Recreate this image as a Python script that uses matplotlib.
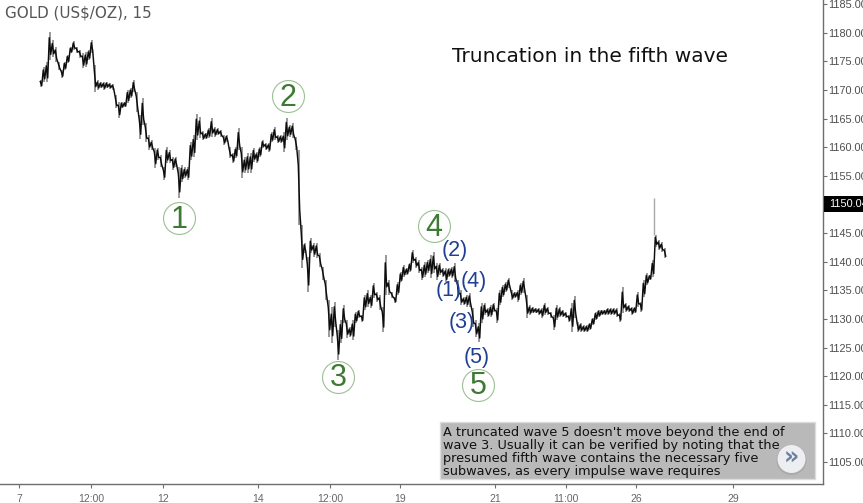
import matplotlib
matplotlib.use("Agg")
import matplotlib.pyplot as plt
import numpy as np
from matplotlib.patches import Rectangle, Ellipse

# prices, one sample every 2.5 trading hours
high_prices = [
    1171.7, 1174.0, 1174.9, 1180.1, 1178.7, 1177.5, 1174.9, 1173.5, 1174.9, 1176.1,
    1177.5, 1178.5, 1177.5, 1177.0, 1176.4, 1176.6, 1177.0, 1178.7, 1174.4, 1171.7,
    1171.4, 1171.4, 1171.4, 1171.2, 1171.0, 1169.1, 1167.9, 1167.9, 1167.9, 1170.0,
    1170.3, 1171.7, 1169.6, 1165.6, 1168.6, 1164.2, 1162.1, 1161.2, 1159.9, 1159.9,
    1158.6, 1156.5, 1160.0, 1159.5, 1158.3, 1158.3, 1156.5, 1156.9, 1156.5, 1156.5,
    1160.9, 1162.1, 1165.8, 1165.3, 1162.8, 1162.5, 1163.3, 1165.1, 1163.5, 1163.3,
    1163.0, 1162.1, 1162.1, 1160.0, 1159.0, 1160.0, 1163.3, 1160.0, 1158.3, 1159.0,
    1159.0, 1159.9, 1159.2, 1160.0, 1161.2, 1160.7, 1160.7, 1162.6, 1163.5, 1162.1,
    1162.1, 1162.6, 1165.1, 1163.9, 1164.2, 1161.8, 1159.5, 1146.4, 1143.3, 1140.8,
    1144.1, 1143.3, 1143.3, 1141.5, 1139.1, 1136.8, 1133.3, 1132.1, 1133.0, 1128.1,
    1129.8, 1132.4, 1129.8, 1128.6, 1129.8, 1131.2, 1131.6, 1130.7, 1134.2, 1135.0,
    1134.2, 1136.3, 1134.7, 1134.2, 1132.1, 1141.2, 1136.8, 1134.7, 1133.8, 1136.4,
    1138.2, 1139.4, 1138.9, 1139.8, 1142.0, 1140.8, 1140.3, 1139.1, 1139.9, 1140.3,
    1141.2, 1141.7, 1139.8, 1139.8, 1138.9, 1138.9, 1138.9, 1139.1, 1139.8, 1136.8,
    1135.0, 1133.8, 1134.2, 1134.5, 1131.9, 1129.8, 1129.3, 1132.8, 1132.8, 1131.9,
    1132.4, 1132.8, 1131.9, 1135.0, 1135.9, 1136.4, 1137.1, 1135.0, 1134.7, 1135.0,
    1136.3, 1137.1, 1134.2, 1132.4, 1132.1, 1131.9, 1131.9, 1131.9, 1132.8, 1132.1,
    1131.2, 1130.7, 1132.4, 1132.1, 1131.6, 1131.2, 1130.7, 1132.8, 1134.0, 1129.5,
    1129.3, 1128.9, 1128.9, 1129.3, 1130.2, 1131.2, 1131.6, 1131.6, 1131.6, 1131.9,
    1131.9, 1131.9, 1131.9, 1131.0, 1135.6, 1132.8, 1132.4, 1132.1, 1132.1, 1134.7,
    1133.0, 1136.8, 1138.0, 1137.7, 1140.3, 1144.7, 1143.8, 1143.4, 1142.4,
]
low_prices = [
    1170.5, 1171.4, 1171.4, 1175.2, 1175.7, 1174.9, 1173.5, 1172.1, 1173.5, 1174.7,
    1176.4, 1177.0, 1176.4, 1175.6, 1173.8, 1174.0, 1175.2, 1176.4, 1169.6, 1170.0,
    1170.3, 1170.0, 1170.3, 1170.2, 1170.0, 1166.8, 1165.1, 1166.8, 1167.0, 1167.7,
    1168.6, 1169.6, 1166.1, 1161.4, 1163.9, 1160.9, 1159.5, 1159.5, 1156.4, 1157.8,
    1156.5, 1154.3, 1157.2, 1157.2, 1156.0, 1156.5, 1151.1, 1153.9, 1154.6, 1154.3,
    1157.8, 1158.3, 1161.2, 1161.6, 1161.2, 1161.4, 1161.6, 1161.8, 1161.8, 1162.1,
    1161.8, 1160.4, 1160.9, 1158.1, 1157.2, 1158.1, 1159.5, 1154.6, 1155.5, 1155.5,
    1155.5, 1157.4, 1157.2, 1158.3, 1159.9, 1159.5, 1159.2, 1160.9, 1161.2, 1160.7,
    1160.7, 1159.2, 1161.2, 1161.8, 1161.6, 1159.5, 1146.4, 1138.9, 1141.5, 1134.7,
    1141.5, 1140.8, 1140.6, 1139.1, 1136.8, 1133.3, 1126.8, 1125.8, 1128.6, 1122.8,
    1125.8, 1129.3, 1126.7, 1126.8, 1126.3, 1129.3, 1130.2, 1129.5, 1131.6, 1132.1,
    1131.9, 1133.7, 1133.0, 1131.6, 1127.7, 1134.2, 1134.2, 1133.7, 1132.8, 1134.2,
    1136.4, 1137.3, 1137.7, 1138.2, 1139.8, 1138.9, 1138.0, 1136.8, 1137.3, 1138.0,
    1137.1, 1138.0, 1136.8, 1137.7, 1137.3, 1136.4, 1137.3, 1137.1, 1136.4, 1133.8,
    1132.4, 1132.4, 1132.1, 1132.1, 1128.6, 1126.8, 1126.0, 1129.3, 1130.7, 1130.3,
    1130.3, 1131.2, 1129.3, 1132.4, 1133.8, 1134.7, 1135.4, 1133.3, 1133.7, 1133.0,
    1134.2, 1134.5, 1130.2, 1130.7, 1131.0, 1131.0, 1130.7, 1130.2, 1130.7, 1130.7,
    1130.2, 1128.1, 1129.8, 1130.3, 1130.3, 1130.2, 1129.5, 1127.7, 1130.2, 1127.7,
    1127.7, 1127.7, 1127.7, 1128.1, 1128.9, 1129.8, 1130.3, 1130.7, 1130.7, 1130.7,
    1130.7, 1130.7, 1130.3, 1129.5, 1131.0, 1131.2, 1131.2, 1130.7, 1131.0, 1132.1,
    1131.2, 1133.8, 1135.9, 1136.8, 1137.3, 1142.6, 1142.0, 1141.7, 1140.6,
]
spike_hour = 529.2
spike_top = 1151.1
spike_bottom = 1144.7
last_price = "1150.04"

wave_labels = ["1", "2", "3", "4", "5"]
wave_hours = [133.3, 224.2, 265.8, 345.8, 382.5]
wave_prices = [1147.6, 1168.9, 1119.9, 1146.2, 1118.5]

sub_labels = ["(1)", "(2)", "(3)", "(4)", "(5)"]
sub_hours = [358.3, 363.3, 369.2, 379.2, 381.7]
sub_prices = [1134.9, 1141.9, 1129.3, 1136.6, 1123.3]

y_ticks = [1105, 1110, 1115, 1120, 1125, 1130, 1135, 1140, 1145, 1150, 1155,
           1160, 1165, 1170, 1175, 1180, 1185]
x_tick_hours = [0, 60, 120, 199.2, 259.2, 317.5, 396.7, 455.8, 514.2, 595]
x_tick_labels = ["7", "12:00", "12", "14", "12:00", "19", "21", "11:00", "26", "29"]

W, H = 863, 503
PX_HOUR = 1.2
fig = plt.figure(figsize=(W / 100, H / 100), dpi=100)
ax = fig.add_axes([0, 1 - 484 / H, 823 / W, 484 / H])

hours = 18.33 + 2.5 * np.arange(len(high_prices))
high = np.array(high_prices)
low = np.array(low_prices)
mid = (high + low) / 2
spread = high - low

# grey wicks, then a black scribble going high/low inside each sample
ax.vlines(hours, low, high, color="#7d7d7d", lw=1.1, zorder=2)
scribble_x = np.ravel(np.column_stack([hours - 0.6, hours + 0.6]))
scribble_y = np.ravel(np.column_stack([mid + spread * 0.3, mid - spread * 0.3]))
ax.plot(scribble_x, scribble_y, color="#0d0d0d", lw=1.05, zorder=4)
ax.vlines(spike_hour, spike_bottom, spike_top, color="#a8a8a8", lw=1.0, zorder=3)

ax.set_xlim(-19 / PX_HOUR, (823 - 19) / PX_HOUR)
ax.set_ylim(1101.17, 1185.7)

for sp in ["top", "left"]:
    ax.spines[sp].set_visible(False)
for sp in ["right", "bottom"]:
    ax.spines[sp].set_color("#6e6e6e")
    ax.spines[sp].set_linewidth(1.0)

ax.yaxis.tick_right()
ax.set_yticks(y_ticks)
ax.set_yticklabels(["%.2f" % v for v in y_ticks], fontsize=7.8, color="#4d4d4d", family="Liberation Sans")
ax.tick_params(axis="y", length=3, width=0.8, color="#6e6e6e", pad=1)
ax.set_xticks(x_tick_hours)
ax.set_xticklabels(x_tick_labels, fontsize=7.5, color="#666666", family="Liberation Sans")
ax.tick_params(axis="x", length=3, width=0.8, color="#6e6e6e", pad=4)

# green circles and main wave numbers
for lab, h, p in zip(wave_labels, wave_hours, wave_prices):
    ax.plot([h], [p], marker="o", ms=23, mfc="white", mec="#9dbf95", mew=0.8, zorder=5)
    ax.text(h, p - 0.3, lab, fontsize=22, color="#3d7a33", ha="center", va="center",
            family="Liberation Sans", zorder=6)

for lab, h, p in zip(sub_labels, sub_hours, sub_prices):
    ax.text(h, p, lab, fontsize=15.5, color="#1f3f93", ha="center", va="center",
            family="Liberation Sans", zorder=7)

ax.text(5 / 823, 1 - 13 / 484, "GOLD (US$/OZ), 15", transform=ax.transAxes, fontsize=10.9,
        color="#555555", va="center", family="DejaVu Sans")
ax.text(452 / 823, 1 - 57 / 484, "Truncation in the fifth wave", transform=ax.transAxes,
        fontsize=14.5, color="#111111", va="center", family="DejaVu Sans")

# last price tag
fig.patches.append(Rectangle((824 / W, 1 - 212 / H), 39 / W, 16 / H, transform=fig.transFigure,
                             fc="black", ec="none", zorder=8))
fig.text(829 / W, 1 - 204 / H, last_price, color="white", fontsize=7.8, va="center",
         family="Liberation Sans", zorder=9)

# note box
fig.patches.append(Rectangle((440 / W, 1 - 479 / H), 375 / W, 57 / H, transform=fig.transFigure,
                             fc="#b9b9b9", ec="#dcdcdc", lw=1, zorder=8))
note_lines = ["A truncated wave 5 doesn't move beyond the end of",
              "wave 3. Usually it can be verified by noting that the",
              "presumed fifth wave contains the necessary five",
              "subwaves, as every impulse wave requires"]
for i, line in enumerate(note_lines):
    fig.text(443 / W, 1 - (432.5 + i * 12.9) / H, line, fontsize=9.3, color="#111111", va="center",
             family="DejaVu Sans", zorder=9)

bx, by = 791.5, 459
fig.patches.append(Ellipse((bx / W, 1 - (by + 1) / H), 30 / W, 30 / H,
                           transform=fig.transFigure, fc="#a9a9a9", ec="none", zorder=9))
fig.patches.append(Ellipse((bx / W, 1 - by / H), 28 / W, 28 / H,
                           transform=fig.transFigure, fc="#eceef1", ec="none", zorder=10))
fig.text(bx / W, 1 - (by - 1) / H, "\u00bb", fontsize=17, fontweight="bold", color="#6a80a0",
         ha="center", va="center", family="DejaVu Sans", zorder=11)

fig.savefig("out.png", dpi=100)
